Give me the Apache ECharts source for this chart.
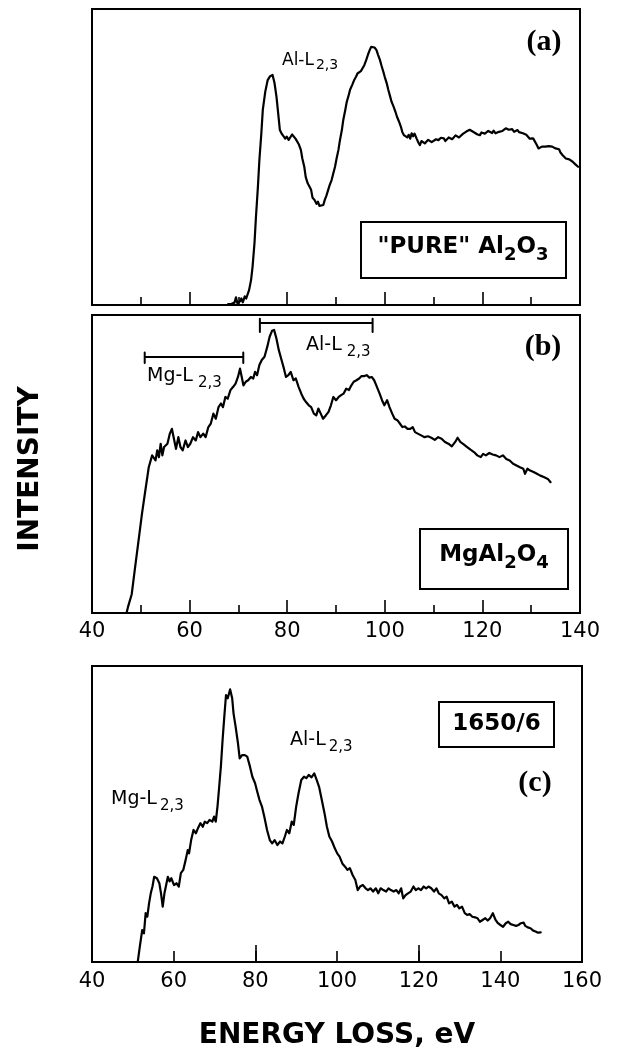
<!DOCTYPE html>
<html><head><meta charset="utf-8">
<script src="https://cdn.jsdelivr.net/npm/echarts@6/dist/echarts.min.js"></script>
<style>html,body{margin:0;padding:0;background:#fff}#c{width:620px;height:1056px}</style>
</head><body><div id="c"></div>
<script>
// ---- data: [energy loss (eV), intensity (arb. units, 0-100 of panel height)] ----
const spectrumA = [[67.9,0.3],[68.6,0.4],[69.2,0.8],[69.5,2.6],[69.8,0.6],[70.3,1.2],[70.6,2.2],[70.9,0.9],[71.3,2.9],[71.6,2.2],[72.2,5.1],[72.6,8.5],[72.9,12.9],[73.3,21],[73.6,29.8],[74.0,40],[74.3,49],[74.7,58],[75.0,65.9],[75.5,72],[76.0,76],[76.5,77.3],[77.0,77.7],[77.4,75],[77.8,70.4],[78.2,64],[78.5,59.1],[78.9,57.8],[79.2,57.4],[79.6,56.2],[79.9,56.9],[80.3,55.8],[80.6,56.3],[81.0,57.6],[81.4,57.4],[81.7,56.2],[82.0,55.7],[82.4,54.2],[82.8,52.4],[83.1,49.5],[83.5,46.7],[83.8,43.2],[84.2,41.1],[84.5,40.2],[84.9,38.9],[85.2,36.2],[85.6,35.5],[86.0,34.2],[86.3,34.9],[86.6,33.5],[87.0,34.1],[87.4,33.8],[87.7,35.5],[88.0,36.8],[88.4,38.9],[88.7,40.5],[89.1,42.2],[89.4,44.2],[89.8,46.7],[90.1,49.3],[90.5,52.4],[90.8,55.6],[91.2,59.1],[91.5,62.6],[91.9,65.9],[92.2,68.6],[92.6,70.9],[92.9,72.8],[93.3,74.3],[93.7,75.9],[94.1,77.1],[94.4,78.2],[94.8,78.8],[95.1,79.0],[95.5,79.4],[95.8,81.0],[96.2,82.8],[96.6,84.8],[96.9,86.1],[97.2,87.2],[97.6,87.5],[97.9,87.0],[98.3,86.1],[98.6,84.6],[99.0,82.8],[99.3,81.0],[99.7,78.8],[100.0,77.0],[100.4,74.9],[100.7,72.8],[101.1,70.4],[101.4,68.6],[101.8,67.0],[102.2,65.2],[102.5,63.6],[102.9,62.0],[103.3,60.2],[103.6,58.4],[103.9,57.4],[104.3,57.8],[104.6,56.6],[104.9,57.5],[105.2,56.2],[105.5,58.0],[105.8,57.0],[106.1,57.9],[106.5,56.3],[106.9,54.8],[107.2,54.0],[107.5,55.4],[107.9,55.7],[108.2,54.6],[108.6,54.6],[108.9,55.8],[109.3,55.7],[109.6,55.0],[110.0,55.2],[110.5,56.0],[111.0,55.7],[111.5,56.5],[112.1,56.3],[112.4,55.4],[112.8,55.7],[113.1,56.6],[113.5,56.9],[113.8,56.0],[114.2,56.3],[114.5,57.3],[114.9,57.4],[115.2,56.6],[115.6,56.9],[116.0,57.8],[116.3,58.0],[116.7,58.6],[117.0,58.5],[117.4,59.2],[117.7,59.7],[118.0,58.6],[118.4,58.5],[119.0,57.6],[119.5,57.4],[119.8,58.3],[120.2,58.5],[120.5,57.9],[120.9,58.0],[121.2,58.8],[121.6,58.5],[122.0,58.1],[122.3,58.9],[122.7,58.0],[123.0,58.2],[123.4,58.5],[123.7,58.0],[124.1,58.8],[124.4,59.1],[124.8,59.7],[125.1,60.2],[125.4,59.2],[125.8,58.9],[126.1,59.4],[126.5,58.5],[126.8,58.9],[127.2,59.1],[127.5,58.4],[127.9,58.5],[128.3,58.0],[128.7,57.4],[129.0,57.5],[129.4,56.9],[129.7,56.2],[130.1,56.0],[130.4,56.3],[130.8,55.7],[131.1,54.2],[131.5,52.9],[131.8,53.2],[132.2,53.5],[132.6,53.0],[132.9,53.5],[133.2,53.9],[133.6,53.7],[134.0,53.2],[134.3,53.5],[134.6,53.0],[135.0,52.9],[135.3,52.4],[135.7,52.6],[136.0,51.5],[136.4,50.7],[136.7,50.1],[137.1,49.5],[137.4,49.8],[137.8,49.2],[138.1,48.6],[138.5,48.4],[139.0,47.6],[139.6,46.7]];

const spectrumB = [[47.09,0.1],[47.44,2.4],[48.14,6.3],[48.83,15.3],[49.53,24.2],[50.23,33.2],[50.93,41.1],[51.63,48.9],[52.32,52.9],[52.67,53.4],[53.02,51.2],[53.37,54.6],[53.72,52.3],[54.07,56.8],[54.42,52.9],[54.77,55.7],[55.46,56.8],[55.95,60.2],[56.37,61.8],[56.86,57.9],[57.21,55.1],[57.70,59.0],[58.12,55.7],[58.60,54.6],[59.16,57.9],[59.65,55.7],[60.14,56.8],[60.70,59.0],[61.26,57.9],[61.74,60.7],[62.23,59.0],[62.79,60.2],[63.28,59.0],[63.84,62.4],[64.33,63.5],[64.88,66.9],[65.37,65.2],[65.93,69.1],[66.42,70.3],[66.84,69.1],[67.33,72.5],[67.81,71.9],[68.37,74.8],[68.93,75.9],[69.42,77.0],[69.91,79.2],[70.33,82.0],[70.61,79.8],[71.03,76.4],[71.51,77.6],[72.00,78.1],[72.56,79.2],[73.05,78.7],[73.40,80.9],[73.82,79.8],[74.30,83.2],[74.79,84.9],[75.35,86.0],[75.91,89.3],[76.40,92.7],[76.89,94.7],[77.31,95.0],[77.79,92.1],[78.28,88.2],[78.84,84.9],[79.33,82.0],[79.75,79.2],[80.24,79.8],[80.72,80.9],[81.28,78.1],[81.77,78.7],[82.33,75.9],[82.89,73.6],[83.38,71.9],[83.86,70.8],[84.42,69.7],[84.91,69.1],[85.47,66.9],[85.96,66.3],[86.38,68.6],[86.87,66.9],[87.35,65.2],[87.91,66.3],[88.47,67.5],[88.96,69.7],[89.45,72.5],[90.01,71.4],[90.56,72.5],[91.05,73.1],[91.54,73.6],[92.10,75.3],[92.66,74.8],[93.15,76.4],[93.63,77.6],[94.19,78.1],[94.75,78.7],[95.24,79.5],[95.73,79.5],[96.29,79.8],[96.84,79.0],[97.33,79.2],[97.82,78.1],[98.38,75.9],[98.94,73.6],[99.43,71.4],[99.91,69.7],[100.47,71.4],[100.96,69.1],[101.52,66.9],[102.01,65.2],[102.57,64.7],[103.12,63.5],[103.61,62.4],[104.10,62.6],[104.66,61.8],[105.22,61.8],[105.71,62.4],[106.19,60.7],[106.75,60.2],[107.45,59.6],[108.15,59.0],[108.85,59.3],[109.54,58.8],[110.24,58.1],[110.94,59.0],[111.64,58.5],[112.33,57.4],[113.03,56.8],[113.73,55.9],[114.43,57.4],[114.92,58.8],[115.47,57.4],[116.17,56.6],[116.87,55.7],[117.57,54.8],[118.27,54.0],[118.96,52.9],[119.66,52.3],[120.15,53.4],[120.71,52.9],[121.41,53.7],[122.10,53.2],[122.80,52.9],[123.50,52.3],[124.20,52.9],[124.89,51.7],[125.59,51.2],[126.29,50.1],[126.99,49.5],[127.69,48.9],[128.38,48.4],[128.73,46.7],[129.22,48.4],[129.78,47.8],[130.48,47.3],[131.18,46.7],[131.87,46.1],[132.57,45.6],[132.92,45.8],[133.41,45.0],[133.97,43.9]];

const spectrumC = [[51.21,0.1],[51.71,5.2],[52.30,10.8],[52.72,9.7],[53.14,16.5],[53.55,15.3],[53.97,19.8],[54.39,23.2],[54.81,25.5],[55.23,28.8],[55.90,28.3],[56.49,26.6],[56.90,23.2],[57.32,18.7],[57.74,23.2],[58.16,26.0],[58.58,28.8],[59.00,27.2],[59.42,28.3],[60.09,26.0],[60.67,26.6],[61.26,25.5],[61.76,30.0],[62.35,31.1],[62.94,34.5],[63.44,37.8],[63.77,36.7],[64.28,41.2],[64.86,44.6],[65.45,43.5],[65.95,45.2],[66.54,46.9],[67.12,45.7],[67.63,47.4],[68.21,46.9],[68.80,48.0],[69.47,47.4],[69.89,49.1],[70.31,47.4],[70.73,52.5],[71.15,59.2],[71.56,66.0],[71.98,75.0],[72.40,82.9],[72.82,90.2],[73.24,89.1],[73.83,92.1],[74.33,89.1],[74.66,84.0],[75.17,79.5],[75.75,73.9],[76.17,68.8],[76.76,69.9],[77.43,69.9],[78.01,69.4],[78.69,66.0],[79.27,62.6],[79.94,60.4],[80.36,58.1],[81.03,54.7],[81.62,52.5],[82.20,49.1],[82.87,44.6],[83.54,41.2],[84.13,40.1],[84.72,41.2],[85.39,39.5],[86.06,40.7],[86.64,40.1],[87.23,42.4],[87.73,44.6],[88.32,43.5],[88.91,47.4],[89.41,46.3],[90.00,52.5],[90.58,57.0],[91.25,61.5],[91.92,62.6],[92.51,62.1],[93.09,63.2],[93.76,62.4],[94.43,63.7],[95.02,61.5],[95.61,59.2],[96.28,54.7],[96.95,50.2],[97.53,45.7],[98.12,42.4],[98.79,40.7],[99.46,38.4],[100.05,36.7],[100.63,35.6],[101.30,33.3],[101.97,32.2],[102.56,31.1],[103.15,31.7],[103.82,29.4],[104.49,27.7],[105.07,24.3],[105.66,25.5],[106.33,26.0],[107.00,24.9],[107.59,24.3],[108.17,24.9],[108.84,23.8],[109.51,24.9],[110.10,23.2],[110.69,24.9],[111.36,24.3],[112.03,23.8],[112.61,24.9],[113.20,24.3],[113.87,23.8],[114.54,24.3],[115.12,23.2],[115.71,24.9],[116.21,21.5],[116.80,22.6],[117.39,23.2],[118.06,23.8],[118.73,25.5],[119.31,24.3],[119.90,24.9],[120.57,24.3],[121.24,25.5],[121.83,24.9],[122.41,25.5],[123.08,24.9],[123.76,23.8],[124.34,24.9],[124.93,23.2],[125.60,22.6],[126.27,21.5],[126.85,22.1],[127.44,19.8],[128.11,20.4],[128.78,18.7],[129.37,19.3],[129.95,18.1],[130.62,18.7],[131.29,16.5],[131.88,15.9],[132.47,16.2],[133.14,15.3],[133.81,15.1],[134.39,14.8],[134.98,13.6],[135.65,14.2],[136.32,14.8],[136.91,14.0],[137.49,14.8],[138.16,16.5],[138.83,14.2],[139.42,13.1],[140.01,12.5],[140.67,11.9],[141.34,13.1],[141.93,13.6],[142.52,12.8],[143.19,12.5],[143.86,12.2],[144.44,12.5],[145.03,13.1],[145.70,13.3],[146.12,12.2],[146.71,11.7],[147.38,11.4],[148.05,10.6],[148.63,10.3],[149.22,9.9],[149.89,10.0]];

// edge ranges (eV) marked with brackets in panel (b)
const mgEdgeRangeB = [50.8, 71.0];
const alEdgeRangeB = [74.4, 97.5];

// axis extents / tick steps
const xRangeAB = [40, 140];
const xRangeC = [40, 160];
const majorStepAB = 20;
const labelStepC = 20;
const longTickStepC = 40;

// ---- rendering ----
const SANS = '"DejaVu Sans", "Liberation Sans", sans-serif';
const SERIF = '"Liberation Serif", "DejaVu Serif", serif';
const chart = echarts.init(document.getElementById('c'), null, {renderer: 'canvas', width: 620, height: 1056});

function bracket(range, yBar, yTop, yBot) {
  return [[range[0], yTop], [range[0], yBot], [range[0], yBar], [range[1], yBar], [range[1], yTop], [range[1], yBot]];
}
const lineSeries = (xi, data, w) => ({
  type: 'line', xAxisIndex: xi, yAxisIndex: Math.min(xi, 2), data: data, showSymbol: false, symbol: 'none',
  lineStyle: {color: '#000', width: w || 2.2, join: 'round', cap: 'round'}, silent: true, animation: false, clip: false
});
const tickStyle = {color: '#000', width: 1.6};
const gridBase = {show: true, borderColor: '#000', borderWidth: 2, backgroundColor: 'transparent'};
const yBase = (gi) => ({type: 'value', gridIndex: gi, min: 0, max: 100, show: false});

function annot(x, y, main, sub, fsM, fsS, off, gap) {
  return {
    type: 'text', x: x, y: y, silent: true,
    style: {
      text: '{m|' + main + '}{s|' + sub + '}',
      verticalAlign: 'top', align: 'left',
      rich: {
        m: {fontFamily: SANS, fontSize: fsM, fill: '#000', verticalAlign: 'top'},
        s: {fontFamily: SANS, fontSize: fsS, fill: '#000', verticalAlign: 'top', padding: [off + (fsM - fsS) / 2, 0, 0, gap]}
      }
    }
  };
}
function boxed(x, y, w, h) {
  return {type: 'rect', shape: {x: x, y: y, width: w, height: h}, style: {fill: 'none', stroke: '#000', lineWidth: 2}, silent: true};
}
function chemText(cx, cy, rich) {
  return {
    type: 'text', x: cx, y: cy, silent: true,
    style: {
      text: rich, align: 'center', verticalAlign: 'middle',
      rich: {
        m: {fontFamily: SANS, fontWeight: 'bold', fontSize: 23, fill: '#000', verticalAlign: 'top'},
        s: {fontFamily: SANS, fontWeight: 'bold', fontSize: 18, fill: '#000', verticalAlign: 'top', padding: [11, 0, 0, 0]}
      }
    }
  };
}
function panelTag(cx, cy, t) {
  return {type: 'text', x: cx, y: cy, silent: true,
    style: {text: t, align: 'center', verticalAlign: 'middle', fontFamily: SERIF, fontWeight: 'bold', fontSize: 30, fill: '#000'}};
}

const option = {
  animation: false,
  backgroundColor: '#fff',
  grid: [
    Object.assign({left: 92, top: 9, width: 488, height: 296}, gridBase),
    Object.assign({left: 92, top: 315, width: 488, height: 298}, gridBase),
    Object.assign({left: 92, top: 666, width: 490, height: 296}, gridBase)
  ],
  xAxis: [
    {type: 'value', gridIndex: 0, min: xRangeAB[0], max: xRangeAB[1], interval: majorStepAB,
     axisLine: {show: false}, splitLine: {show: false}, axisLabel: {show: false},
     axisTick: {show: true, inside: true, length: 13, lineStyle: tickStyle},
     minorTick: {show: true, splitNumber: 2, length: 8, lineStyle: tickStyle}, minorSplitLine: {show: false}},
    {type: 'value', gridIndex: 1, min: xRangeAB[0], max: xRangeAB[1], interval: majorStepAB,
     axisLine: {show: false}, splitLine: {show: false},
     axisLabel: {show: true, color: '#000', fontFamily: SANS, fontSize: 21, margin: 8},
     axisTick: {show: true, inside: true, length: 13, lineStyle: tickStyle},
     minorTick: {show: true, splitNumber: 2, length: 8, lineStyle: tickStyle}, minorSplitLine: {show: false}},
    {type: 'value', gridIndex: 2, min: xRangeC[0], max: xRangeC[1], interval: labelStepC,
     axisLine: {show: false}, splitLine: {show: false},
     axisLabel: {show: true, color: '#000', fontFamily: SANS, fontSize: 21, margin: 9},
     axisTick: {show: true, inside: true, length: 11, lineStyle: tickStyle}},
    {type: 'value', gridIndex: 2, position: 'bottom', offset: 0, min: xRangeC[0], max: xRangeC[1], interval: longTickStepC,
     axisLine: {show: false}, splitLine: {show: false}, axisLabel: {show: false},
     axisTick: {show: true, inside: true, length: 17, lineStyle: tickStyle}}
  ],
  yAxis: [yBase(0), yBase(1), yBase(2)],
  series: [
    lineSeries(0, spectrumA),
    lineSeries(1, spectrumB),
    lineSeries(2, spectrumC),
    lineSeries(1, bracket(alEdgeRangeB, 97.3, 98.7, 94.3), 2),
    lineSeries(1, bracket(mgEdgeRangeB, 85.9, 87.4, 83.9), 2)
  ],
  graphic: [
    // panel (a)
    annot(282, 52, 'Al-L', '2,3', 17, 14, 5, 2),
    panelTag(544, 42, '(a)'),
    boxed(361, 222, 205, 56),
    chemText(463, 250, '{m|"PURE" Al}{s|2}{m|O}{s|3}'),
    // panel (b)
    annot(306, 336, 'Al-L', '2,3', 19, 15, 6.5, 5),
    annot(147, 367, 'Mg-L', '2,3', 19, 15, 6.5, 5),
    panelTag(543, 347, '(b)'),
    boxed(420, 529, 148, 60),
    chemText(494, 558, '{m|MgAl}{s|2}{m|O}{s|4}'),
    // panel (c)
    annot(290, 731, 'Al-L', '2,3', 19, 15, 6.5, 3),
    annot(111, 790, 'Mg-L', '2,3', 19, 15, 6.5, 3),
    panelTag(535, 783, '(c)'),
    boxed(439, 702, 115, 45),
    {type: 'text', x: 496.5, y: 724.5, silent: true,
     style: {text: '1650/6', align: 'center', verticalAlign: 'middle', fontFamily: SANS, fontWeight: 'bold', fontSize: 23, fill: '#000'}},
    // axis titles
    {type: 'text', x: 31, y: 469, rotation: Math.PI / 2, silent: true,
     style: {text: 'INTENSITY', align: 'center', verticalAlign: 'middle', fontFamily: SANS, fontWeight: 'bold', fontSize: 28, fill: '#000'}},
    {type: 'text', x: 337, y: 1036, silent: true,
     style: {text: 'ENERGY LOSS, eV', align: 'center', verticalAlign: 'middle', fontFamily: SANS, fontWeight: 'bold', fontSize: 28, fill: '#000'}}
  ]
};
chart.setOption(option);
</script>
</body></html>
